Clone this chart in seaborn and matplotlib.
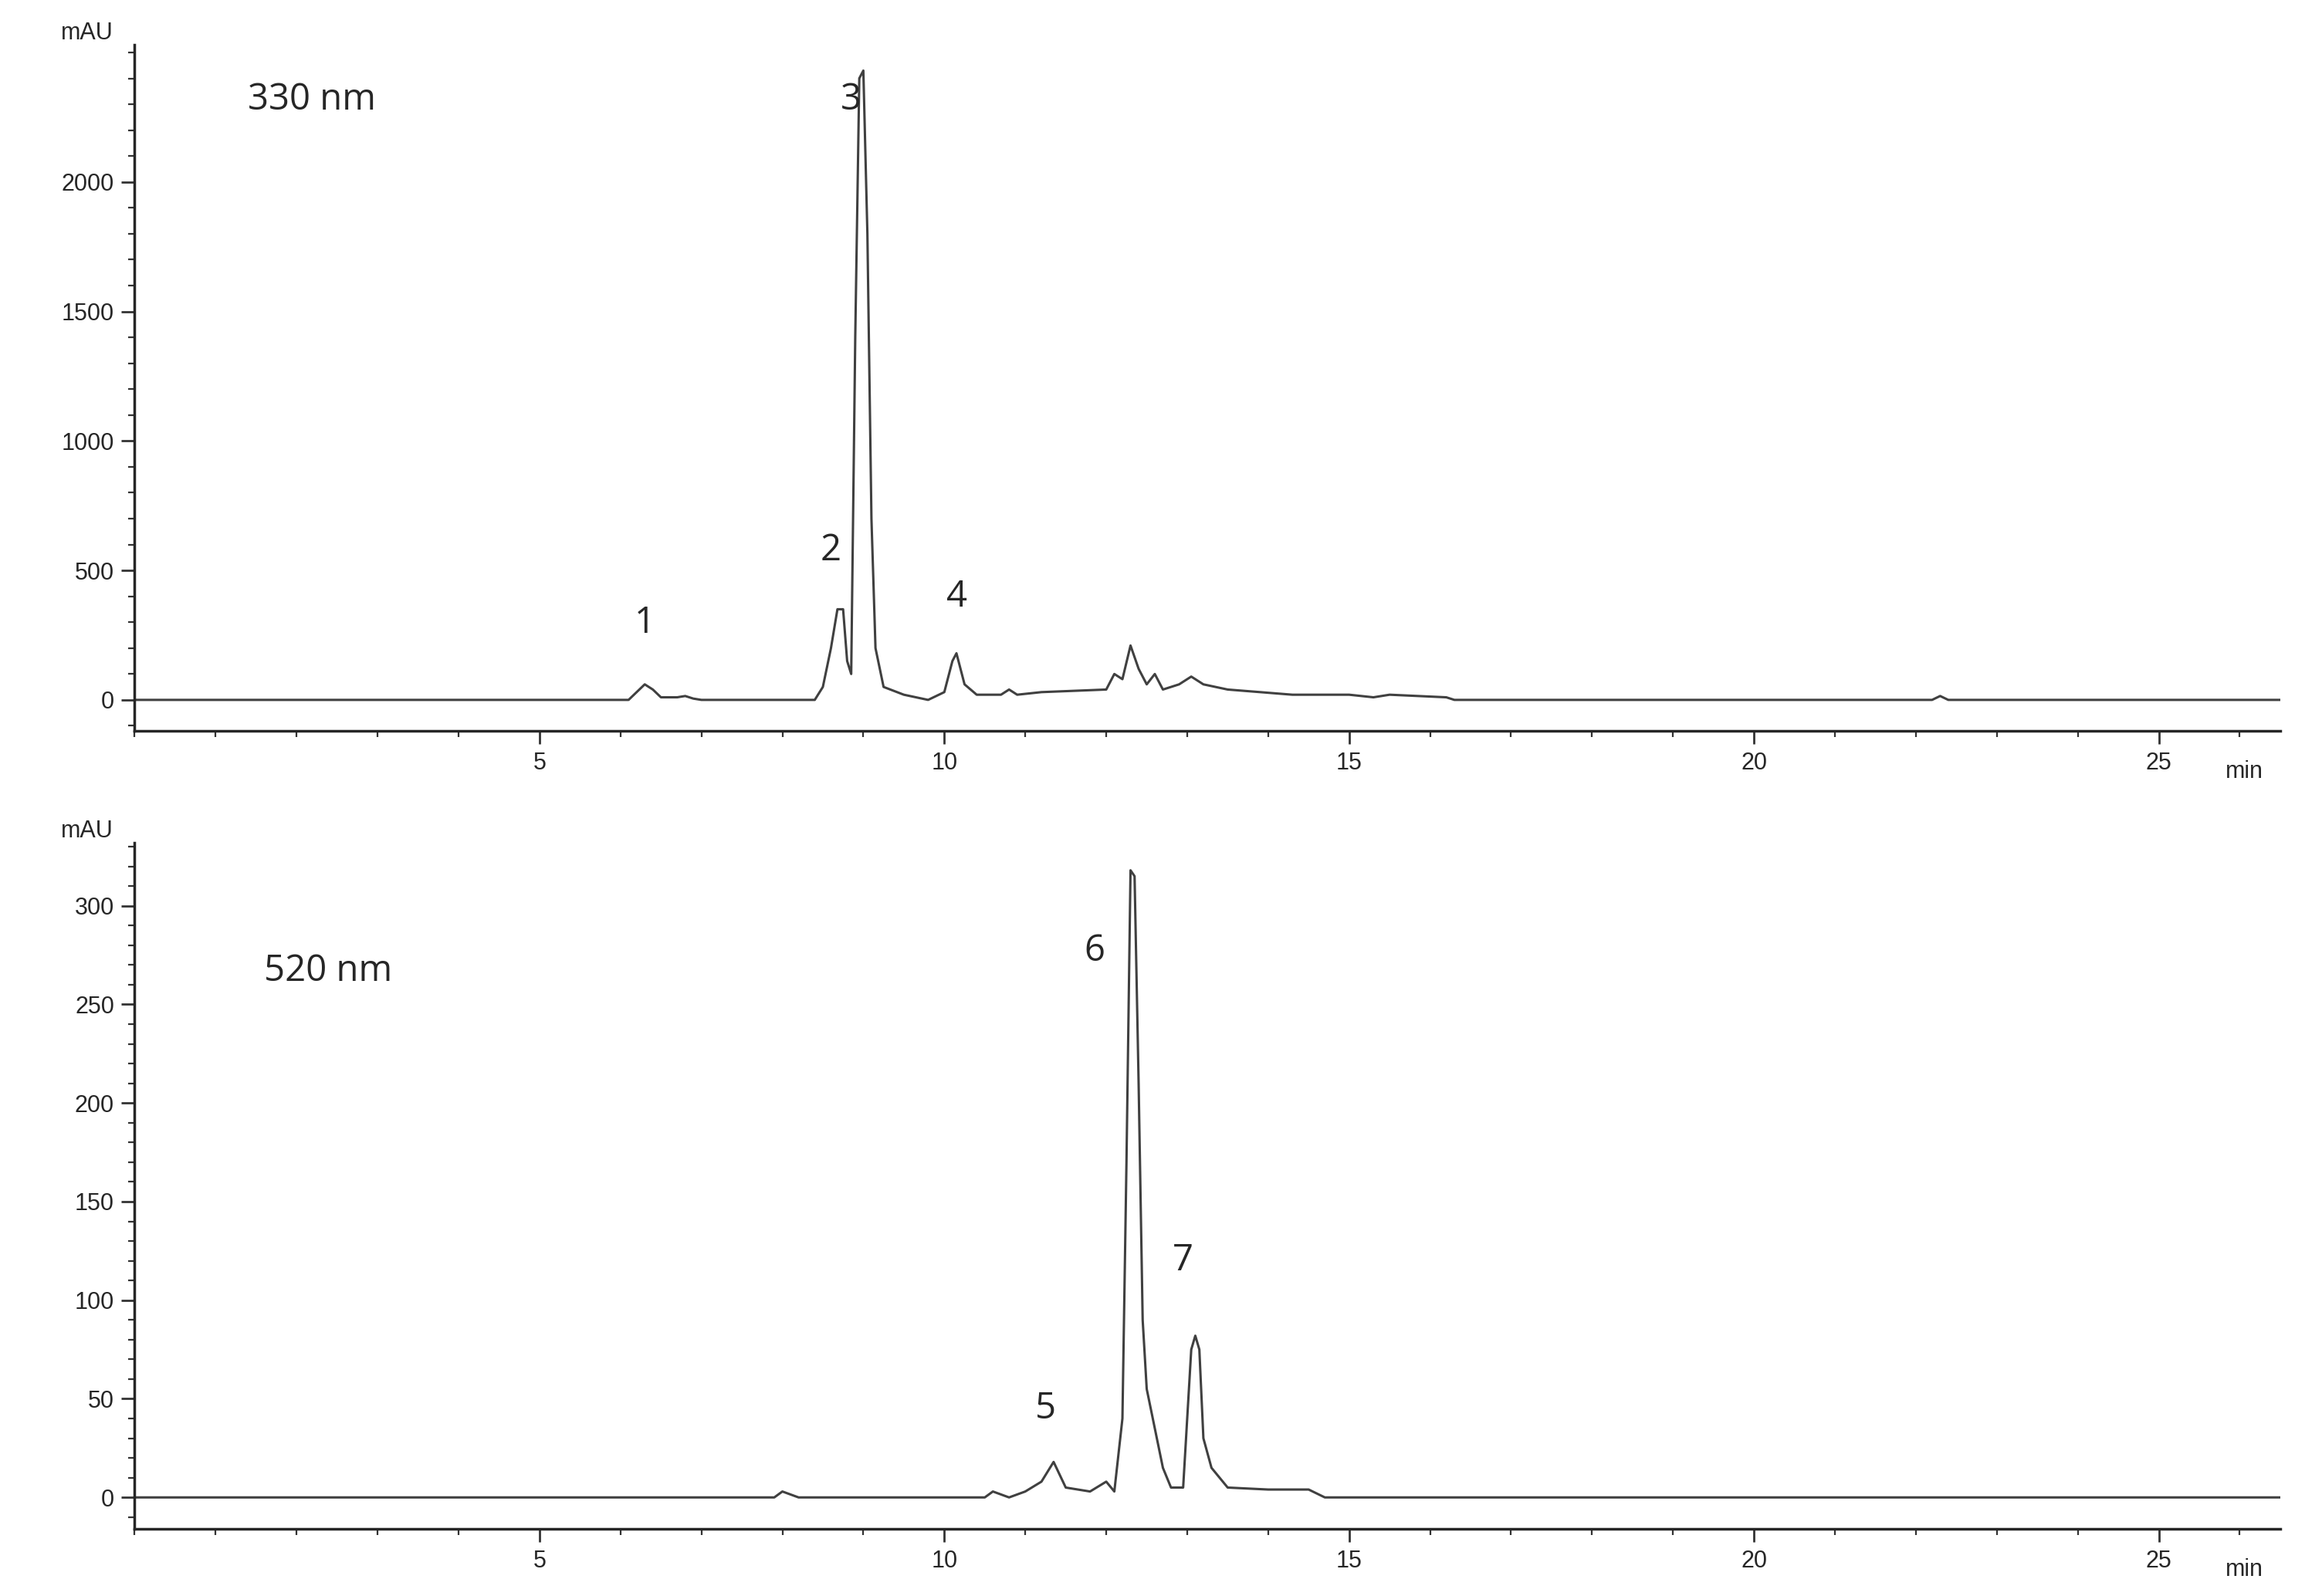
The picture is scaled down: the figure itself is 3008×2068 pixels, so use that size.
import pandas as pd
import matplotlib.pyplot as plt
import seaborn as sns
from matplotlib.ticker import MultipleLocator

# 330 nm chromatogram (time in min, absorbance in mAU)
t330 = [0, 6.1, 6.2, 6.3, 6.4, 6.5, 6.7, 6.8, 6.9, 7.0, 8.4, 8.5, 8.6, 8.68, 8.75, 8.8, 8.85,
        8.9, 8.95, 9.0, 9.05, 9.1, 9.15, 9.25, 9.5, 9.8, 10.0, 10.1, 10.15, 10.25, 10.4, 10.7,
        10.8, 10.9, 11.2, 12.0, 12.1, 12.2, 12.3, 12.4, 12.5, 12.6, 12.7, 12.9, 13.05, 13.2,
        13.5, 14.3, 15.0, 15.3, 15.5, 16.2, 16.3, 22.2, 22.3, 22.4, 26.5]
a330 = [0, 0, 30, 60, 40, 10, 10, 15, 5, 0, 0, 50, 200, 350, 350, 150, 100,
        1400, 2400, 2430, 1800, 700, 200, 50, 20, 0, 30, 150, 180, 60, 20, 20,
        40, 20, 30, 40, 100, 80, 210, 120, 60, 100, 40, 60, 90, 60,
        40, 20, 20, 10, 20, 10, 0, 0, 15, 0, 0]

# 520 nm chromatogram
t520 = [0, 7.9, 8.0, 8.2, 10.5, 10.6, 10.8, 11.0, 11.2, 11.35, 11.5, 11.8, 12.0, 12.1, 12.2,
        12.25, 12.3, 12.35, 12.4, 12.45, 12.5, 12.6, 12.7, 12.8, 12.95, 13.0, 13.05, 13.1,
        13.15, 13.2, 13.3, 13.5, 14.0, 14.5, 14.7, 26.5]
a520 = [0, 0, 3, 0, 0, 3, 0, 3, 8, 18, 5, 3, 8, 3, 40,
        170, 318, 315, 210, 90, 55, 35, 15, 5, 5, 40, 75, 82,
        75, 30, 15, 5, 4, 4, 0, 0]

peaks330 = [("1", 6.3, 260), ("2", 8.6, 540), ("3", 8.85, 2280), ("4", 10.15, 360)]
peaks520 = [("5", 11.25, 40), ("6", 11.85, 272), ("7", 12.95, 115)]

sns.set_theme(style="ticks")
plt.rcParams['font.family'] = ['Liberation Sans', 'DejaVu Sans']

fig = plt.figure(figsize=(15.04, 10.34), dpi=200)
ax1 = fig.add_axes([0.058, 0.542, 0.924, 0.43])
ax2 = fig.add_axes([0.058, 0.042, 0.924, 0.43])

panels = [
    (ax1, t330, a330, peaks330, "330 nm", (-120, 2530), 500, 100, (1.4, 2280)),
    (ax2, t520, a520, peaks520, "520 nm", (-16, 332), 50, 10, (1.6, 262)),
]
for ax, t, a, peaks, label, ylim, ymaj, ymin, lpos in panels:
    df = pd.DataFrame({"t": t, "mAU": a})
    sns.lineplot(data=df, x="t", y="mAU", ax=ax, color="#404040", linewidth=1.1)
    ax.set_xlim(0, 26.5)
    ax.set_ylim(*ylim)
    ax.xaxis.set_major_locator(MultipleLocator(5))
    ax.xaxis.set_minor_locator(MultipleLocator(1))
    ax.yaxis.set_major_locator(MultipleLocator(ymaj))
    ax.yaxis.set_minor_locator(MultipleLocator(ymin))
    ax.set_xticks([5, 10, 15, 20, 25])
    ax.set_yticks([v for v in ax.get_yticks() if ylim[0] < v < ylim[1] - ymaj * 0.2])
    ax.tick_params(which="major", length=6, width=1, labelsize=11, color="#333333")
    ax.tick_params(which="minor", length=3, width=0.8, color="#333333")
    ax.set_xlabel("")
    ax.set_ylabel("")
    sns.despine(ax=ax)
    ax.text(-0.01, 1.0, "mAU", transform=ax.transAxes, ha="right", va="bottom", fontsize=11)
    ax.text(1.0 - 0.008, -0.06, "min", transform=ax.transAxes, ha="right", va="center", fontsize=11)
    ax.text(lpos[0], lpos[1], label, fontsize=17, family=["Open Sans", "DejaVu Sans"])
    for name, x, y in peaks:
        ax.text(x, y, name, fontsize=17, ha="center", family=["Open Sans", "DejaVu Sans"])

fig.savefig("out.png", dpi=200)
